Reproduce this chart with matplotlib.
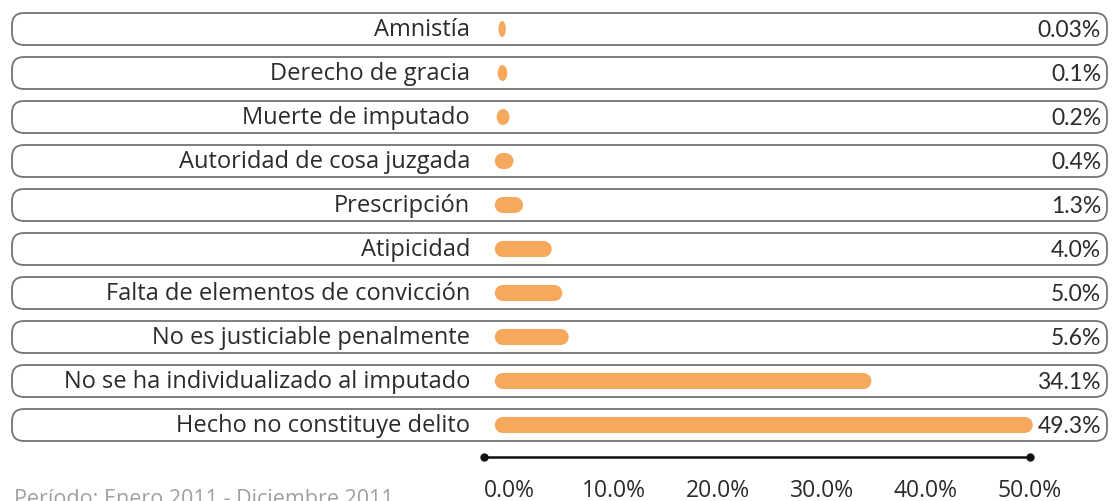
import matplotlib
matplotlib.use("Agg")
import matplotlib.pyplot as plt
from matplotlib.patches import FancyBboxPatch, Rectangle, Ellipse
import matplotlib.transforms as mtransforms

# data, top row first
categories = ["Amnistía", "Derecho de gracia", "Muerte de imputado",
              "Autoridad de cosa juzgada", "Prescripción", "Atipicidad",
              "Falta de elementos de convicción", "No es justiciable penalmente",
              "No se ha individualizado al imputado", "Hecho no constituye delito"]
values = [0.03, 0.1, 0.2, 0.4, 1.3, 4.0, 5.0, 5.6, 34.1, 49.3]
value_labels = ["0.03%", "0.1%", "0.2%", "0.4%", "1.3%", "4.0%", "5.0%",
                "5.6%", "34.1%", "49.3%"]
ticks = [0, 10, 20, 30, 40, 50]
tick_labels = ["0.0%", "10.0%", "20.0%", "30.0%", "40.0%", "50.0%"]

W, H, DPI = 1119, 501, 100
bar_color = "#F6A95C"
text_color = "#2b2b2b"
edge_color = "#737373"
label_font = "Open Sans"
value_font = "Lato"

fig = plt.figure(figsize=(W / DPI, H / DPI), dpi=DPI)
fig.patch.set_facecolor("white")

# bar axes: x from 502px to 1033px, rows every 44px starting at 29px
ax = fig.add_axes([502 / W, 0, 531 / W, 1])
ax.set_xlim(0, 50)
ax.set_ylim((H - 29) / 44, -29 / 44)
ax.axis("off")
fig.canvas.draw()

to_px = ax.transData
ident = mtransforms.IdentityTransform()
blend = mtransforms.blended_transform_factory(fig.transFigure, ax.transData)


def add_px(patch):
    patch.set_transform(ident)
    patch.set_clip_on(False)
    ax.add_artist(patch)


bar_h = 16
for i, (cat, v, lab) in enumerate(zip(categories, values, value_labels)):
    # row outline
    _, yc = to_px.transform((0, i))
    add_px(FancyBboxPatch((12, yc - 16), W - 24, 32,
                          boxstyle="round,pad=0,rounding_size=12",
                          facecolor="white", edgecolor=edge_color,
                          linewidth=1.3, zorder=1))

    # rounded bar (caps reach past both ends)
    cap = min(0.68, 0.3 + v)
    x0, _ = to_px.transform((-cap, i))
    x1, _ = to_px.transform((v + cap, i))
    w = x1 - x0
    r = bar_h / 2
    if w <= bar_h:
        add_px(Ellipse(((x0 + x1) / 2, yc), w, bar_h, facecolor=bar_color,
                       edgecolor="none", zorder=3))
    else:
        add_px(Rectangle((x0 + r, yc - r), w - 2 * r, bar_h,
                         facecolor=bar_color, edgecolor="none", zorder=3))
        add_px(Ellipse((x0 + r, yc), bar_h, bar_h, facecolor=bar_color,
                       edgecolor="none", zorder=3))
        add_px(Ellipse((x1 - r, yc), bar_h, bar_h, facecolor=bar_color,
                       edgecolor="none", zorder=3))

    ax.text(470 / W, i + 0.03, cat, transform=blend, ha="right", va="center",
            fontsize=17, color=text_color, family=label_font, zorder=4)
    ax.text(1101 / W, i + 0.03, lab, transform=blend, ha="right", va="center",
            fontsize=16.5, color=text_color, family=value_font, zorder=4)

# bottom scale
sx = fig.add_axes([484 / W, 1 - 476 / H, 546 / W, 19 / H])
sx.set_xlim(-26 / 10.5, 520 / 10.5)
sx.set_ylim(0, 1)
for s in sx.spines.values():
    s.set_visible(False)
sx.plot([0, 1], [1, 1], transform=sx.transAxes, color="#111111",
        linewidth=1.8, marker="o", markersize=5, clip_on=False)
sx.set_yticks([])
sx.set_xticks(ticks)
sx.set_xticklabels(tick_labels, fontsize=16.5, color=text_color, family=label_font)
sx.tick_params(axis="x", length=0, pad=2)
sx.patch.set_alpha(0)

# source note, cropped by the bottom edge as in the original
fig.text(14 / W, 1 - 489 / H, "Período: Enero 2011 - Diciembre 2011",
         ha="left", va="top", fontsize=15.5, color="#a0a0a0", family=label_font)

fig.savefig("out.png", dpi=DPI, facecolor="white")
